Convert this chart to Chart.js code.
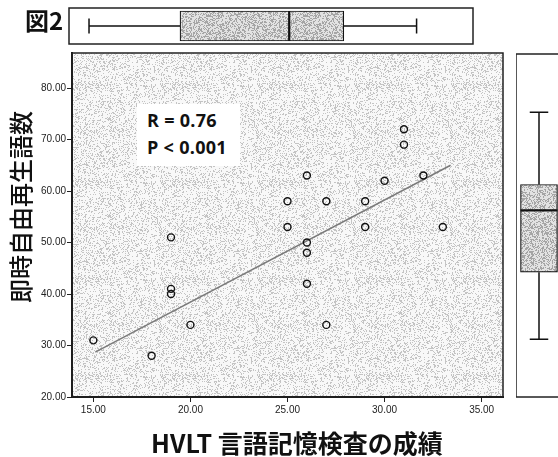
<!DOCTYPE html>
<html>
<head>
<meta charset="utf-8">
<script src="https://cdn.jsdelivr.net/npm/chart.js@4.4.1/dist/chart.umd.min.js"></script>
<style>
  html, body { margin:0; padding:0; background:#fff; }
  #wrap { position:relative; width:558px; height:457px; overflow:hidden; background:#fff; }
  canvas { position:absolute; }
  .txt { position:absolute; white-space:nowrap; color:#111; }
</style>
</head>
<body>
<div id="wrap">
  <canvas id="scatter" width="512" height="457" style="left:0;top:0;"></canvas>
  <canvas id="topBox" width="558" height="52" style="left:0;top:0;"></canvas>
  <canvas id="rightBox" width="50" height="457" style="left:516px;top:0;"></canvas>
  <div class="txt" style="left:25px;top:4px;font:bold 24px 'Noto Sans CJK JP';line-height:32px;">図2</div>
  <div class="txt" style="left:19.5px;top:207px;transform:translate(-50%,-50%) rotate(-90deg);font:500 24px 'Noto Sans CJK JP';line-height:28px;">即時自由再生語数</div>
  <div class="txt" style="left:297px;top:442px;transform:translate(-50%,-50%);font:bold 25px 'Noto Sans CJK JP';line-height:30px;">HVLT 言語記憶検査の成績</div>
  <div class="txt" style="left:137px;top:104px;width:103px;height:62px;background:#fff;font:bold 18px 'Open Sans';">
    <div style="position:absolute;left:10px;top:4px;line-height:24px;letter-spacing:0.3px;">R = 0.76</div>
    <div style="position:absolute;left:10px;top:31px;line-height:24px;letter-spacing:0.3px;">P &lt; 0.001</div>
  </div>
</div>
<script>
// ---- data ----
const xValues = [15, 18, 19, 19, 19, 20, 25, 25, 26, 26, 26, 26, 27, 27, 29, 29, 30, 31, 31, 32, 33];
const yValues = [31, 28, 51, 41, 40, 34, 58, 53, 63, 50, 48, 42, 58, 34, 58, 53, 62, 72, 69, 63, 53];
const fitX = [15.1, 33.4];
const fitY = [28.7, 65.0];
const xTicks = [15, 20, 25, 30, 35];
const yTicks = [20, 30, 40, 50, 60, 70, 80];
const xBoxStats = [15, 20, 26, 29, 33];   // min, Q1, median, Q3, max
const yBoxStats = [28, 41, 53, 58, 72];
const xRange = [13.9, 36.1];
const yRange = [20, 86.8];
const yBoxRange = [16.8, 83.3];

Chart.defaults.animation = false;
Chart.defaults.responsive = false;
Chart.defaults.devicePixelRatio = 1;
Chart.defaults.plugins.legend.display = false;
Chart.defaults.plugins.tooltip.enabled = false;

function makePattern(ctx, light, dark, density) {
  const n = 97;
  const c = document.createElement('canvas');
  c.width = n; c.height = n;
  const g = c.getContext('2d');
  const img = g.createImageData(n, n);
  let s = 987654321;
  for (let i = 0; i < n * n; i++) {
    s = (Math.imul(s, 1103515245) + 12345) & 0x7fffffff;
    const r = (s >>> 15) / 65536;
    const v = r < density ? dark : light;
    img.data[i*4] = v; img.data[i*4+1] = v; img.data[i*4+2] = v; img.data[i*4+3] = 255;
  }
  g.putImageData(img, 0, 0);
  return ctx.createPattern(c, 'repeat');
}

const tickFont = { family: "'Liberation Sans', Arial, sans-serif", size: 10 };

// ---- scatter ----
const sctx = document.getElementById('scatter').getContext('2d');
const bgPattern = makePattern(sctx, 248, 196, 0.24);
const framePlugin = {
  id: 'frame',
  beforeDraw(chart) {
    const a = chart.chartArea, c = chart.ctx;
    if (chart.options.plugins.frame && chart.options.plugins.frame.fill) {
      c.save(); c.fillStyle = chart.options.plugins.frame.fill;
      c.fillRect(a.left, a.top, a.right - a.left, a.bottom - a.top); c.restore();
    }
  },
  afterDraw(chart) {
    const a = chart.chartArea, c = chart.ctx;
    c.save(); c.strokeStyle = '#222'; c.lineWidth = 1.5;
    c.strokeRect(a.left, a.top, a.right - a.left, a.bottom - a.top); c.restore();
  }
};

new Chart(sctx, {
  type: 'scatter',
  data: {
    datasets: [
      { type: 'line', data: fitX.map((x, i) => ({ x, y: fitY[i] })), borderColor: '#7a7a7a', borderWidth: 1.5, pointRadius: 0, fill: false, order: 2 },
      { data: xValues.map((x, i) => ({ x, y: yValues[i] })), pointRadius: 3.5, pointBorderWidth: 1.4, pointBorderColor: '#111', pointBackgroundColor: 'rgba(0,0,0,0)', order: 1 }
    ]
  },
  options: {
    layout: { padding: { top: 53, right: 9, left: 0, bottom: 0 } },
    plugins: { frame: { fill: bgPattern } },
    scales: {
      x: {
        type: 'linear', min: xRange[0], max: xRange[1],
        afterBuildTicks: s => { s.ticks = xTicks.map(v => ({ value: v })); },
        afterFit: s => { s.height = 60; },
        ticks: { callback: v => v.toFixed(2), font: tickFont, color: '#222', padding: 2, maxRotation: 0, autoSkip: false },
        grid: { drawOnChartArea: false, drawTicks: true, tickLength: 5, color: '#222' },
        border: { display: true, color: '#111', width: 2 }
      },
      y: {
        type: 'linear', min: yRange[0], max: yRange[1],
        afterBuildTicks: s => { s.ticks = yTicks.map(v => ({ value: v })); },
        afterFit: s => { s.width = 72; },
        ticks: { callback: v => v.toFixed(2), font: tickFont, color: '#222', padding: 1, autoSkip: false },
        grid: { drawOnChartArea: false, drawTicks: true, tickLength: 5, color: '#222' },
        border: { display: true, color: '#111', width: 2 }
      }
    }
  },
  plugins: [framePlugin]
});

// ---- box plot plugin ----
const boxPlugin = {
  id: 'boxWhiskers',
  beforeDatasetsDraw(chart) {
    const horiz = chart.options.indexAxis === 'y';
    const stats = chart.options.plugins.boxWhiskers.stats;
    const bar = chart.getDatasetMeta(0).data[0];
    const vs = horiz ? chart.scales.x : chart.scales.y;
    const c = chart.ctx;
    const thick = horiz ? bar.height : bar.width;
    const mid = horiz ? bar.y : bar.x;
    const p = stats.map(v => vs.getPixelForValue(v));
    c.save(); c.strokeStyle = '#111'; c.lineWidth = 1.5;
    c.beginPath();
    const seg = (a, b) => { if (horiz) { c.moveTo(a, mid); c.lineTo(b, mid); } else { c.moveTo(mid, a); c.lineTo(mid, b); } };
    const cap = v => { if (horiz) { c.moveTo(v, mid - thick / 4); c.lineTo(v, mid + thick / 4); } else { c.moveTo(mid - thick / 4, v); c.lineTo(mid + thick / 4, v); } };
    seg(p[0], p[1]); seg(p[3], p[4]); cap(p[0]); cap(p[4]);
    c.stroke(); c.restore();
  },
  afterDatasetsDraw(chart) {
    const horiz = chart.options.indexAxis === 'y';
    const stats = chart.options.plugins.boxWhiskers.stats;
    const bar = chart.getDatasetMeta(0).data[0];
    const vs = horiz ? chart.scales.x : chart.scales.y;
    const c = chart.ctx;
    const thick = horiz ? bar.height : bar.width;
    const mid = horiz ? bar.y : bar.x;
    const m = vs.getPixelForValue(stats[2]);
    c.save(); c.strokeStyle = '#111'; c.lineWidth = 2.2;
    c.beginPath();
    if (horiz) { c.moveTo(m, mid - thick / 2); c.lineTo(m, mid + thick / 2); }
    else { c.moveTo(mid - thick / 2, m); c.lineTo(mid + thick / 2, m); }
    c.stroke(); c.restore();
  }
};

// ---- top box plot (x variable) ----
const tctx = document.getElementById('topBox').getContext('2d');
const boxPatternT = makePattern(tctx, 226, 165, 0.4);
new Chart(tctx, {
  type: 'bar',
  data: { labels: [''], datasets: [{ data: [[xBoxStats[1], xBoxStats[3]]], backgroundColor: boxPatternT, borderColor: '#111', borderWidth: 1.2, borderSkipped: false, barThickness: 30 }] },
  options: {
    indexAxis: 'y',
    layout: { padding: { left: 69, right: 85, top: 8, bottom: 8 } },
    plugins: { boxWhiskers: { stats: xBoxStats } },
    scales: {
      x: { type: 'linear', min: xRange[0], max: xRange[1], display: false },
      y: { display: false }
    }
  },
  plugins: [boxPlugin, framePlugin]
});

// ---- right box plot (y variable) ----
const rctx = document.getElementById('rightBox').getContext('2d');
const boxPatternR = makePattern(rctx, 226, 165, 0.4);
new Chart(rctx, {
  type: 'bar',
  data: { labels: [''], datasets: [{ data: [[yBoxStats[1], yBoxStats[3]]], backgroundColor: boxPatternR, borderColor: '#111', borderWidth: 1.2, borderSkipped: false, barThickness: 37 }] },
  options: {
    layout: { padding: { left: 0, right: 4, top: 54, bottom: 60 } },
    plugins: { boxWhiskers: { stats: yBoxStats } },
    scales: {
      y: { type: 'linear', min: yBoxRange[0], max: yBoxRange[1], display: false },
      x: { display: false }
    }
  },
  plugins: [boxPlugin, framePlugin]
});
</script>
</body>
</html>
